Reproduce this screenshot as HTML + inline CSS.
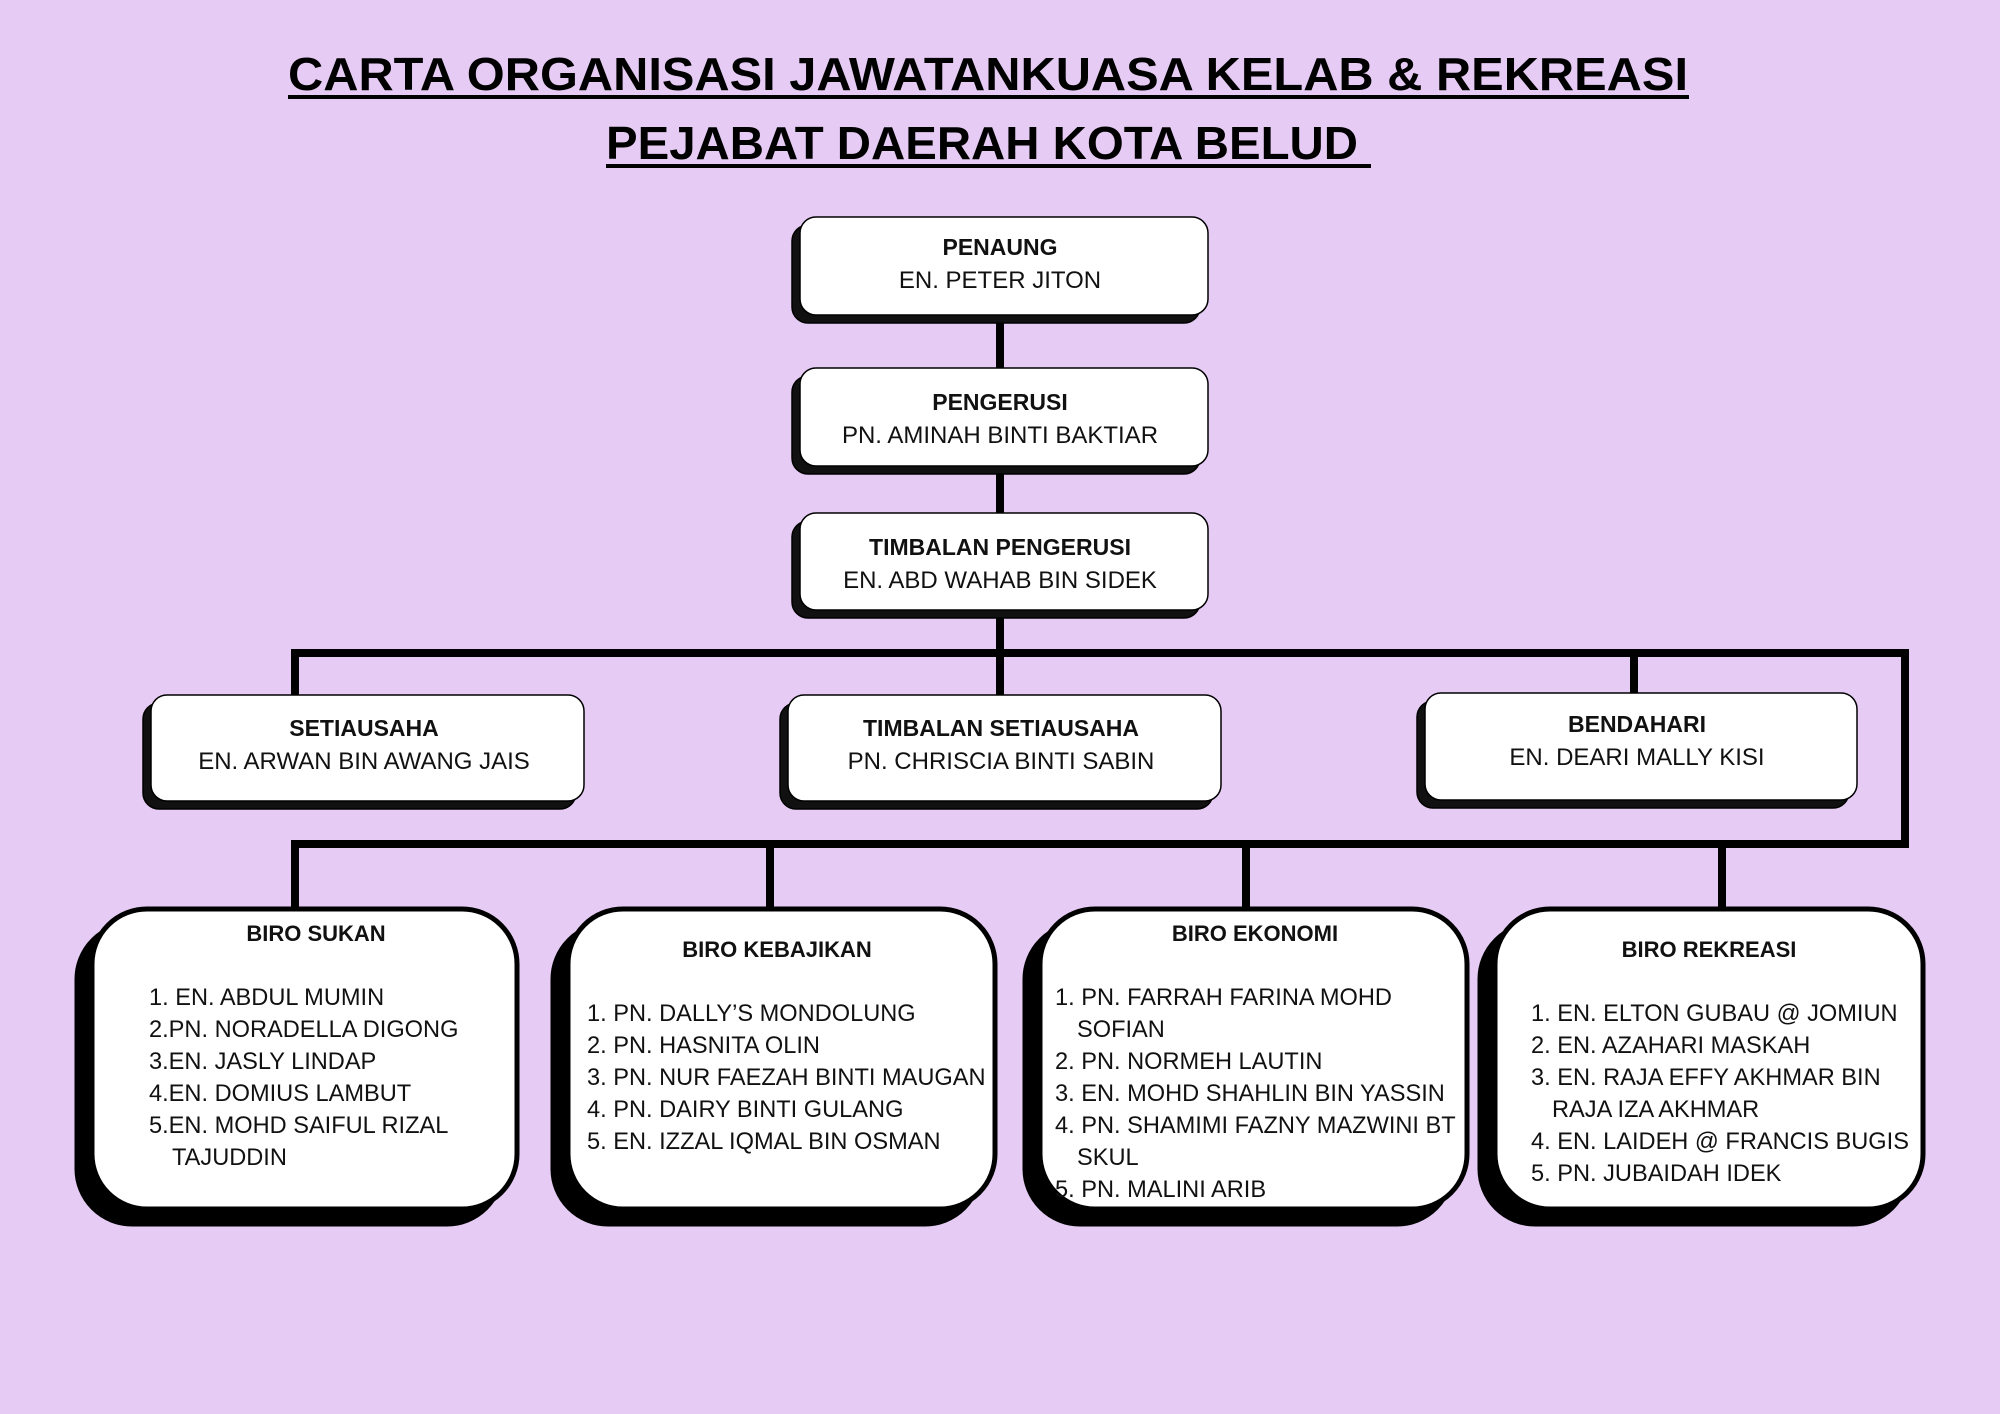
<!DOCTYPE html>
<html><head><meta charset="utf-8"><style>
html,body{margin:0;padding:0;background:#e6ccf4;}
svg{display:block;}
text{font-family:"Liberation Sans",sans-serif;fill:#111;}
.t{font-weight:bold;font-size:23px;}
.n{font-size:24px;}
.b{font-weight:bold;font-size:22px;}
.l{font-size:23.6px;}
</style></head><body>
<svg width="2000" height="1414" viewBox="0 0 2000 1414" xmlns="http://www.w3.org/2000/svg">
<rect width="2000" height="1414" fill="#e6ccf4"/>
<text x="288" y="90" font-size="46" font-weight="bold" textLength="1400" lengthAdjust="spacingAndGlyphs" style="fill:#000">CARTA ORGANISASI JAWATANKUASA KELAB &amp; REKREASI</text>
<rect x="288" y="95" width="1401" height="4" fill="#000"/>
<text x="606" y="159" font-size="46" font-weight="bold" textLength="752" lengthAdjust="spacingAndGlyphs" style="fill:#000">PEJABAT DAERAH KOTA BELUD</text>
<rect x="606" y="164" width="765" height="4" fill="#000"/>

<g fill="#000">
<rect x="996" y="313" width="8" height="58"/>
<rect x="996" y="465" width="8" height="50"/>
<rect x="996" y="608" width="8" height="90"/>
<rect x="291" y="649" width="1618" height="8"/>
<rect x="291" y="649" width="8" height="48"/>
<rect x="1630" y="649" width="8" height="48"/>
<rect x="1901" y="649" width="8" height="199"/>
<rect x="291" y="840" width="1618" height="8"/>
<rect x="291" y="840" width="8" height="72"/>
<rect x="766" y="840" width="8" height="72"/>
<rect x="1242" y="840" width="8" height="72"/>
<rect x="1718" y="840" width="8" height="72"/>
</g>

<g stroke="#000" stroke-width="1.5">
<rect x="792" y="225" width="408" height="98" rx="16" fill="#111"/>
<rect x="800" y="217" width="408" height="98" rx="16" fill="#fff"/>
<rect x="792" y="376" width="408" height="98" rx="16" fill="#111"/>
<rect x="800" y="368" width="408" height="98" rx="16" fill="#fff"/>
<rect x="792" y="521" width="408" height="97" rx="16" fill="#111"/>
<rect x="800" y="513" width="408" height="97" rx="16" fill="#fff"/>
<rect x="143" y="703" width="433" height="106" rx="16" fill="#111"/>
<rect x="151" y="695" width="433" height="106" rx="16" fill="#fff"/>
<rect x="780" y="703" width="433" height="106" rx="16" fill="#111"/>
<rect x="788" y="695" width="433" height="106" rx="16" fill="#fff"/>
<rect x="1417" y="701" width="432" height="107" rx="16" fill="#111"/>
<rect x="1425" y="693" width="432" height="107" rx="16" fill="#fff"/>
</g>
<g text-anchor="middle">
<text class="t" x="1000" y="255">PENAUNG</text>
<text class="n" x="1000" y="288">EN. PETER JITON</text>
<text class="t" x="1000" y="410">PENGERUSI</text>
<text class="n" x="1000" y="443">PN. AMINAH BINTI BAKTIAR</text>
<text class="t" x="1000" y="555">TIMBALAN PENGERUSI</text>
<text class="n" x="1000" y="588">EN. ABD WAHAB BIN SIDEK</text>
<text class="t" x="364" y="736">SETIAUSAHA</text>
<text class="n" x="364" y="769">EN. ARWAN BIN AWANG JAIS</text>
<text class="t" x="1001" y="736">TIMBALAN SETIAUSAHA</text>
<text class="n" x="1001" y="769">PN. CHRISCIA BINTI SABIN</text>
<text class="t" x="1637" y="732">BENDAHARI</text>
<text class="n" x="1637" y="765">EN. DEARI MALLY KISI</text>
</g>

<g stroke="#000" stroke-width="5">
<rect x="77" y="924" width="425" height="300" rx="55" fill="#000"/>
<rect x="92" y="909" width="425" height="300" rx="55" fill="#fff"/>
<rect x="553" y="924" width="427" height="300" rx="55" fill="#000"/>
<rect x="568" y="909" width="427" height="300" rx="55" fill="#fff"/>
<rect x="1025" y="924" width="427" height="300" rx="55" fill="#000"/>
<rect x="1040" y="909" width="427" height="300" rx="55" fill="#fff"/>
<rect x="1480" y="924" width="428" height="300" rx="55" fill="#000"/>
<rect x="1495" y="909" width="428" height="300" rx="55" fill="#fff"/>
</g>
<g text-anchor="middle">
<text class="b" x="316" y="941">BIRO SUKAN</text>
<text class="b" x="777" y="957">BIRO KEBAJIKAN</text>
<text class="b" x="1255" y="941">BIRO EKONOMI</text>
<text class="b" x="1709" y="957">BIRO REKREASI</text>
</g>
<g>
<text class="l" x="149" y="1005">1. EN. ABDUL MUMIN</text>
<text class="l" x="149" y="1037">2.PN. NORADELLA DIGONG</text>
<text class="l" x="149" y="1069">3.EN. JASLY LINDAP</text>
<text class="l" x="149" y="1101">4.EN. DOMIUS LAMBUT</text>
<text class="l" x="149" y="1133">5.EN. MOHD SAIFUL RIZAL</text>
<text class="l" x="172" y="1165">TAJUDDIN</text>

<text class="l" x="587" y="1021">1. PN. DALLY’S MONDOLUNG</text>
<text class="l" x="587" y="1053">2. PN. HASNITA OLIN</text>
<text class="l" x="587" y="1085">3. PN. NUR FAEZAH BINTI MAUGAN</text>
<text class="l" x="587" y="1117">4. PN. DAIRY BINTI GULANG</text>
<text class="l" x="587" y="1149">5. EN. IZZAL IQMAL BIN OSMAN</text>

<text class="l" x="1055" y="1005">1. PN. FARRAH FARINA MOHD</text>
<text class="l" x="1077" y="1037">SOFIAN</text>
<text class="l" x="1055" y="1069">2. PN. NORMEH LAUTIN</text>
<text class="l" x="1055" y="1101">3. EN. MOHD SHAHLIN BIN YASSIN</text>
<text class="l" x="1055" y="1133">4. PN. SHAMIMI FAZNY MAZWINI BT</text>
<text class="l" x="1077" y="1165">SKUL</text>
<text class="l" x="1055" y="1197">5. PN. MALINI ARIB</text>

<text class="l" x="1531" y="1021">1. EN. ELTON GUBAU @ JOMIUN</text>
<text class="l" x="1531" y="1053">2. EN. AZAHARI MASKAH</text>
<text class="l" x="1531" y="1085">3. EN. RAJA EFFY AKHMAR BIN</text>
<text class="l" x="1552" y="1117">RAJA IZA AKHMAR</text>
<text class="l" x="1531" y="1149">4. EN. LAIDEH @ FRANCIS BUGIS</text>
<text class="l" x="1531" y="1181">5. PN. JUBAIDAH IDEK</text>
</g>
</svg>
</body></html>
